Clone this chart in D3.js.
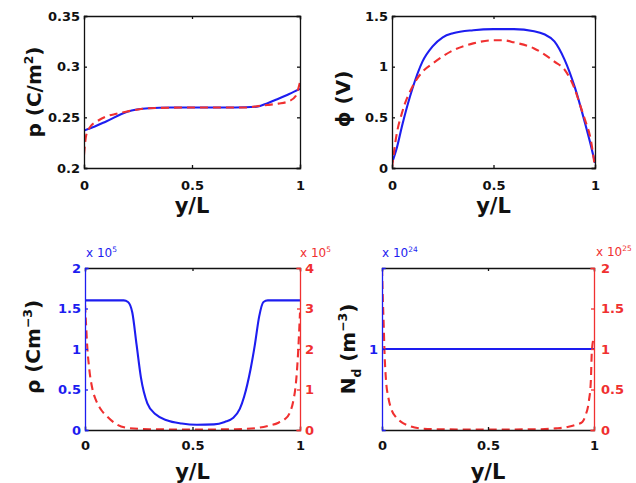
<!DOCTYPE html>
<html>
<head>
<meta charset="utf-8">
<script src="https://cdn.jsdelivr.net/npm/d3@7"></script>
<style>
  body { margin: 0; background: #fff; }
  text { font-family: "DejaVu Sans", sans-serif; }
</style>
</head>
<body>
<div id="chart"></div>
<script>
// ---- values ----
var xTicks = [0, 0.5, 1];

// top left: p (C/m^2)
var pTicks = [0.2, 0.25, 0.3, 0.35];
var pBlueX = [0, 0.05, 0.1, 0.2, 0.3, 0.4, 0.5, 0.6, 0.7, 0.8, 0.85, 0.9, 0.95, 1];
var pBlueY = [0.237, 0.241, 0.2457, 0.2556, 0.259, 0.2597, 0.2597, 0.2597, 0.2597, 0.2605, 0.264, 0.2684, 0.273, 0.278];
var pRedX = [0, 0.01, 0.03, 0.06, 0.1, 0.15, 0.2, 0.3, 0.5, 0.75, 0.8, 0.85, 0.9, 0.95, 0.98, 1];
var pRedY = [0.213, 0.232, 0.241, 0.246, 0.2506, 0.2535, 0.2558, 0.259, 0.2597, 0.2597, 0.261, 0.2622, 0.2635, 0.266, 0.271, 0.285];

// top right: phi (V)
var phiTicks = [0, 0.5, 1, 1.5];
var phiBlueX = [0, 0.024, 0.05, 0.1, 0.15, 0.2, 0.25, 0.3, 0.4, 0.5, 0.6, 0.7, 0.75, 0.8, 0.85, 0.9, 0.95, 0.98, 1];
var phiBlueY = [0.05, 0.2, 0.42, 0.78, 1.05, 1.2, 1.29, 1.33, 1.36, 1.37, 1.37, 1.35, 1.32, 1.25, 1.07, 0.8, 0.45, 0.22, 0.05];
var phiRedX = [0, 0.02, 0.05, 0.1, 0.15, 0.2, 0.3, 0.4, 0.5, 0.55, 0.6, 0.7, 0.8, 0.85, 0.9, 0.93, 0.95, 0.98, 1];
var phiRedY = [0, 0.3, 0.55, 0.8, 0.95, 1.03, 1.16, 1.23, 1.26, 1.26, 1.24, 1.18, 1.05, 0.97, 0.78, 0.6, 0.48, 0.27, 0];

// bottom left: rho, blue in 1e5 (left axis), red in 1e5 (right axis)
var rhoLeftTicks = [0, 0.5, 1, 1.5, 2];
var rhoRightTicks = [0, 1, 2, 3, 4];
var rhoBlueX = [0, 0.18, 0.2, 0.22, 0.24, 0.26, 0.29, 0.33, 0.38, 0.45, 0.52, 0.6, 0.65, 0.69, 0.72, 0.74, 0.77, 0.79, 0.81, 0.83, 0.85, 1];
var rhoBlueY = [1.6, 1.6, 1.58, 1.45, 1.05, 0.65, 0.33, 0.19, 0.12, 0.08, 0.065, 0.07, 0.1, 0.15, 0.26, 0.41, 0.75, 1.05, 1.4, 1.58, 1.6, 1.6];
var rhoRedX = [0, 0.005, 0.01, 0.02, 0.035, 0.05, 0.075, 0.1, 0.15, 0.2, 0.3, 0.5, 0.7, 0.8, 0.85, 0.9, 0.93, 0.95, 0.97, 0.98, 0.99, 1];
var rhoRedY = [3.1, 2.6, 2.1, 1.5, 1.0, 0.75, 0.5, 0.35, 0.13, 0.05, 0.02, 0.01, 0.02, 0.05, 0.1, 0.18, 0.27, 0.4, 0.75, 1.1, 1.8, 2.9];

// bottom right: N_d, blue in 1e24 (left axis), red in 1e25 (right axis)
var ndLeftTicks = [1];
var ndRightTicks = [0, 0.5, 1, 1.5, 2];
var ndBlueX = [0, 1];
var ndBlueY = [1, 1];
var ndRedX = [0, 0.003, 0.008, 0.012, 0.019, 0.03, 0.045, 0.066, 0.09, 0.13, 0.18, 0.25, 0.5, 0.75, 0.82, 0.88, 0.92, 0.945, 0.96, 0.976, 0.985, 0.99, 1];
var ndRedY = [2.0, 1.7, 1.3, 0.95, 0.61, 0.4, 0.25, 0.157, 0.1, 0.05, 0.02, 0.01, 0.005, 0.01, 0.02, 0.04, 0.07, 0.1, 0.18, 0.36, 0.6, 0.98, 1.15];

var BLUE = "#1d1df0", RED = "#f03030", INK = "#111";

var svg = d3.select("#chart").append("svg")
    .attr("width", 636)
    .attr("height", 483);

function zip(xs, ys) { return xs.map(function (d, i) { return [d, ys[i]]; }); }

// write text with sub/superscripts: parts = [[text, shift], ...]
function richText(sel, parts, size) {
  var cur = 0;
  parts.forEach(function (p) {
    var shift = p[1] || 0;
    sel.append("tspan")
      .attr("dy", (shift - cur) * size)
      .attr("font-size", shift ? size * 0.62 : size)
      .text(p[0]);
    cur = shift;
  });
}

function panel(o) {
  var g = svg.append("g").attr("transform", "translate(" + o.left + "," + o.top + ")");
  var w = o.right - o.left, h = o.bottom - o.top;

  var x = d3.scaleLinear().domain([0, 1]).range([0, w]);
  var y = d3.scaleLinear().domain(o.yDomain).range([h, 0]);
  var y2 = o.y2Domain ? d3.scaleLinear().domain(o.y2Domain).range([h, 0]) : null;

  var clipId = "clip" + o.id;
  g.append("clipPath").attr("id", clipId)
    .append("rect").attr("width", w).attr("height", h);

  // lines
  var plot = g.append("g").attr("clip-path", "url(#" + clipId + ")");
  o.series.forEach(function (s) {
    var ys = s.axis === "right" ? y2 : y;
    plot.append("path")
      .datum(zip(s.x, s.y))
      .attr("fill", "none")
      .attr("stroke", s.color)
      .attr("stroke-width", 2.1)
      .attr("stroke-dasharray", s.dash || null)
      .attr("d", d3.line()
        .curve(d3.curveMonotoneX)
        .x(function (d) { return x(d[0]); })
        .y(function (d) { return ys(d[1]); }));
  });

  // axes, MATLAB style ticks pointing inwards
  var fmt = function (d) { return String(d); };
  var bottom = g.append("g").attr("transform", "translate(0," + h + ")")
    .call(d3.axisBottom(x).tickValues(xTicks).tickSize(-3).tickPadding(o.xPad).tickFormat(fmt));
  var top = g.append("g")
    .call(d3.axisTop(x).tickValues(xTicks).tickSize(-3).tickFormat(""));
  var left = g.append("g")
    .call(d3.axisLeft(y).tickValues(o.yTicks).tickSize(-3).tickPadding(4).tickFormat(fmt));
  var right = g.append("g").attr("transform", "translate(" + w + ",0)")
    .call(d3.axisRight(y2 || y).tickValues(o.y2Ticks || o.yTicks).tickSize(-3).tickPadding(o.rPad || 5)
      .tickFormat(y2 ? fmt : ""));

  [[bottom, INK], [top, INK], [left, o.leftColor], [right, o.rightColor]].forEach(function (a) {
    a[0].selectAll("path,line").attr("stroke", a[1]).attr("stroke-width", 1.3);
    a[0].selectAll("text").attr("fill", a[1]).attr("font-size", 13).attr("font-weight", "bold");
  });
  g.selectAll(".domain").attr("stroke-linecap", "square");

  // x label
  g.append("text")
    .attr("x", w / 2).attr("y", o.xLabelY - o.top)
    .attr("text-anchor", "middle")
    .attr("font-size", 21).attr("font-weight", "bold").attr("fill", INK)
    .text("y/L");

  // y label (baseline at yLabelX)
  var yl = g.append("text")
    .attr("transform", "translate(" + (o.yLabelX - o.left) + "," + (o.yLabelY - o.top) + ") rotate(-90)")
    .attr("text-anchor", "middle")
    .attr("font-size", 20).attr("font-weight", "bold").attr("fill", INK);
  richText(yl, o.yLabel, 20);

  // exponent labels
  (o.exps || []).forEach(function (e) {
    var t = g.append("text")
      .attr("x", e.x - o.left).attr("y", e.y - o.top)
      .attr("font-size", 12).attr("fill", e.color);
    richText(t, [["x 10", 0], [e.p, -0.45]], 12);
  });
}

panel({
  id: 1, left: 84, right: 300, top: 16, bottom: 168,
  yDomain: [0.2, 0.35], yTicks: pTicks, leftColor: INK, rightColor: INK,
  xPad: 13, xLabelY: 213, yLabelX: 41, yLabelY: 92,
  yLabel: [["p (C/m", 0], ["2", -0.4], [")", 0]],
  series: [
    { x: pBlueX, y: pBlueY, color: BLUE },
    { x: pRedX, y: pRedY, color: RED, dash: "8,5" }
  ]
});

panel({
  id: 2, left: 392, right: 595, top: 16, bottom: 168,
  yDomain: [0, 1.5], yTicks: phiTicks, leftColor: INK, rightColor: INK,
  xPad: 13, xLabelY: 213, yLabelX: 350, yLabelY: 99,
  yLabel: [["\u03d5 (V)", 0]],
  series: [
    { x: phiBlueX, y: phiBlueY, color: BLUE },
    { x: phiRedX, y: phiRedY, color: RED, dash: "8,5" }
  ]
});

panel({
  id: 3, left: 85, right: 300, top: 268, bottom: 430,
  yDomain: [0, 2], yTicks: rhoLeftTicks, y2Domain: [0, 4], y2Ticks: rhoRightTicks,
  leftColor: BLUE, rightColor: RED, rPad: 5,
  xPad: 11, xLabelY: 479, yLabelX: 40, yLabelY: 347,
  yLabel: [["\u03c1 (Cm", 0], ["\u22123", -0.4], [")", 0]],
  exps: [{ x: 86, y: 257, color: BLUE, p: "5" }, { x: 300, y: 257, color: RED, p: "5" }],
  series: [
    { x: rhoBlueX, y: rhoBlueY, color: BLUE },
    { x: rhoRedX, y: rhoRedY, color: RED, dash: "8,5", axis: "right" }
  ]
});

panel({
  id: 4, left: 382, right: 594, top: 268, bottom: 430,
  yDomain: [0, 2], yTicks: ndLeftTicks, y2Domain: [0, 2], y2Ticks: ndRightTicks,
  leftColor: BLUE, rightColor: RED, rPad: 7,
  xPad: 11, xLabelY: 479, yLabelX: 355, yLabelY: 349,
  yLabel: [["N", 0], ["d", 0.3], [" (m", 0], ["\u22123", -0.4], [")", 0]],
  exps: [{ x: 382, y: 257, color: BLUE, p: "24" }, { x: 596, y: 256, color: RED, p: "25" }],
  series: [
    { x: ndBlueX, y: ndBlueY, color: BLUE },
    { x: ndRedX, y: ndRedY, color: RED, dash: "8,5", axis: "right" }
  ]
});
</script>
</body>
</html>
